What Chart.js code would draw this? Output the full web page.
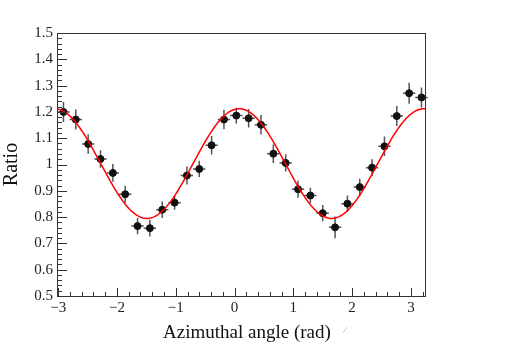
<!DOCTYPE html>
<html>
<head>
<meta charset="utf-8">
<script src="https://cdn.jsdelivr.net/npm/chart.js@4.4.1/dist/chart.umd.min.js"></script>
<style>
  body { margin: 0; background: #fff; }
  canvas { display: block; }
</style>
</head>
<body>
<canvas id="ratioChart" width="510" height="345"></canvas>
<script>
// bin centres (rad) and measured ratio with errors
var angles = [-2.91, -2.70, -2.49, -2.28, -2.07, -1.86, -1.65, -1.44, -1.23, -1.02,
              -0.81, -0.60, -0.39, -0.18, 0.03, 0.24, 0.45, 0.66, 0.87, 1.08,
              1.29, 1.50, 1.71, 1.92, 2.13, 2.34, 2.55, 2.76, 2.97, 3.18];
var ratios = [1.200, 1.171, 1.078, 1.021, 0.968, 0.887, 0.766, 0.758, 0.828, 0.855,
              0.958, 0.983, 1.073, 1.171, 1.186, 1.176, 1.151, 1.041, 1.006, 0.906,
              0.882, 0.815, 0.761, 0.851, 0.914, 0.988, 1.069, 1.184, 1.271, 1.255];
var ratioErr = [0.038, 0.038, 0.037, 0.033, 0.034, 0.032, 0.031, 0.032, 0.031, 0.027,
                0.034, 0.031, 0.035, 0.037, 0.030, 0.035, 0.037, 0.035, 0.033, 0.032,
                0.030, 0.031, 0.041, 0.031, 0.032, 0.032, 0.037, 0.038, 0.040, 0.038];
var binHalfWidth = 0.105;

// fit: p0 + p1*cos(2*(x - phi))
var fitP0 = 1.0035;
var fitP1 = 0.2085;
var fitPhi = 0.08;

var xMin = -3.02, xMax = 3.24;
var yMin = 0.5, yMax = 1.5;

var points = angles.map(function (x, i) { return { x: x, y: ratios[i] }; });
var fitCurve = [];
for (var k = 0; k <= 300; k++) {
  var x = xMin + (xMax - xMin) * k / 300;
  fitCurve.push({ x: x, y: fitP0 + fitP1 * Math.cos(2 * (x - fitPhi)) });
}

var serif = "'Liberation Serif', 'DejaVu Serif', serif";

// error bars under the markers
var errorBars = {
  id: 'errorBars',
  beforeDatasetsDraw: function (chart) {
    var c = chart.ctx, xs = chart.scales.x, ys = chart.scales.y;
    c.save();
    c.strokeStyle = '#555';
    c.lineWidth = 1.5;
    angles.forEach(function (x, i) {
      var px = xs.getPixelForValue(x), py = ys.getPixelForValue(ratios[i]);
      c.beginPath();
      c.moveTo(xs.getPixelForValue(x - binHalfWidth), py);
      c.lineTo(xs.getPixelForValue(x + binHalfWidth), py);
      c.moveTo(px, ys.getPixelForValue(ratios[i] - ratioErr[i]));
      c.lineTo(px, ys.getPixelForValue(ratios[i] + ratioErr[i]));
      c.stroke();
    });
    c.restore();
  }
};

// ROOT-style frame with inward ticks, plus x title
var frame = {
  id: 'frame',
  afterDraw: function (chart) {
    var c = chart.ctx, a = chart.chartArea, xs = chart.scales.x, ys = chart.scales.y;
    c.save();
    c.strokeStyle = '#333';
    c.lineWidth = 1;
    c.strokeRect(Math.round(a.left) + 0.5, Math.round(a.top) + 0.5,
                 Math.round(a.right - a.left), Math.round(a.bottom - a.top));
    c.beginPath();
    for (var v = 0; v <= 50; v++) {
      var val = yMin + v * 0.02;
      var py = Math.round(ys.getPixelForValue(val)) + 0.5;
      var len = (v % 5 === 0) ? 10 : 5;
      c.moveTo(a.left, py);
      c.lineTo(a.left + len, py);
    }
    for (var h = -15; h <= 16; h++) {
      var xv = h * 0.2;
      if (xv < xMin - 1e-9 || xv > xMax) continue;
      var px = Math.round(xs.getPixelForValue(xv)) + 0.5;
      var l = (h % 5 === 0) ? 8 : 4;
      c.moveTo(px, a.bottom);
      c.lineTo(px, a.bottom - l);
    }
    c.stroke();
    c.fillStyle = '#111';
    c.font = "19px " + serif;
    c.textAlign = 'center';
    c.textBaseline = 'alphabetic';
    c.fillText('Azimuthal angle (rad)', 247, 338);
    // small stray mark after the title, as in the original
    c.fillStyle = '#999';
    c.font = "9px " + serif;
    c.fillText('\u2044', 345, 333);
    c.restore();
  }
};

var myChart = new Chart(document.getElementById('ratioChart').getContext('2d'), {
  type: 'scatter',
  data: {
    datasets: [
      {
        type: 'line',
        label: 'fit',
        data: fitCurve,
        borderColor: 'rgb(255, 0, 0)',
        borderWidth: 1.5,
        pointRadius: 0,
        fill: false,
        tension: 0,
        order: 0
      },
      {
        label: 'ratio',
        data: points,
        backgroundColor: '#111',
        borderColor: '#111',
        pointRadius: 3.5,
        order: 1
      }
    ]
  },
  options: {
    responsive: false,
    animation: false,
    layout: { padding: { top: 33, right: 85, left: 0, bottom: 0 } },
    plugins: { legend: { display: false }, tooltip: { enabled: false } },
    scales: {
      x: {
        type: 'linear',
        min: xMin,
        max: xMax,
        grid: { display: false, drawTicks: false },
        border: { display: false },
        afterFit: function (s) { s.height = 49; },
        ticks: {
          stepSize: 1,
          includeBounds: false,
          padding: 3,
          maxRotation: 0,
          color: '#222',
          font: { family: serif, size: 15 },
          callback: function (v) { return v < 0 ? '\u2212' + Math.abs(v) : String(v); }
        }
      },
      y: {
        type: 'linear',
        min: yMin,
        max: yMax,
        grid: { display: false, drawTicks: false },
        border: { display: false },
        afterFit: function (s) { s.width = 57; },
        title: {
          display: true,
          text: 'Ratio',
          color: '#111',
          font: { family: serif, size: 20 },
          padding: { top: 0, bottom: 0 }
        },
        ticks: {
          stepSize: 0.1,
          padding: 4,
          color: '#222',
          font: { family: serif, size: 15 },
          callback: function (v) { return String(Number(v.toFixed(1))); }
        }
      }
    }
  },
  plugins: [errorBars, frame]
});
</script>
</body>
</html>
